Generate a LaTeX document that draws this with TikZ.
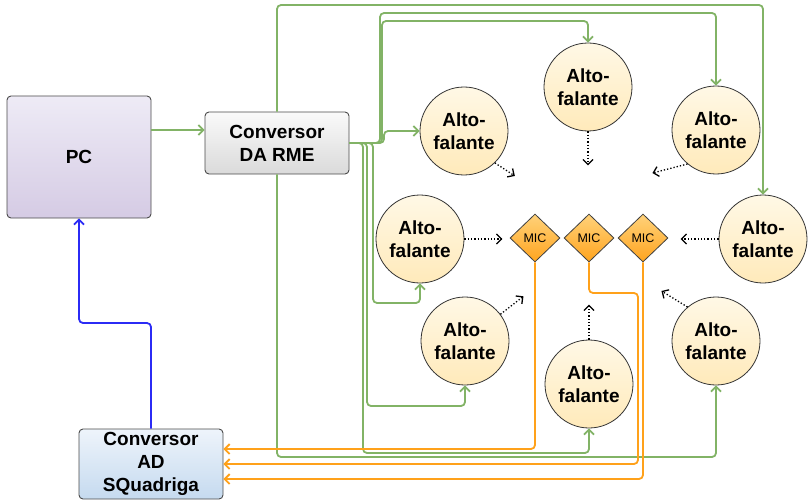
\documentclass[tikz,border=0pt]{standalone}
\usepackage{fontspec}
\setmainfont{Liberation Sans}
\usetikzlibrary{shapes.geometric, arrows.meta, calc}
\usepackage{xcolor}

\definecolor{wiregreen}{HTML}{82B366}
\definecolor{wireorange}{HTML}{FFA11A}
\definecolor{wireblue}{HTML}{2B2BF5}
\definecolor{boxline}{HTML}{4A4A4A}
\definecolor{pctop}{HTML}{EEEBF6}
\definecolor{pcbot}{HTML}{D5CBE4}
\definecolor{datop}{HTML}{FAFAFA}
\definecolor{dabot}{HTML}{DADADA}
\definecolor{adtop}{HTML}{EEF4FB}
\definecolor{adbot}{HTML}{C5DAEF}
\definecolor{spktop}{HTML}{FFF8E6}
\definecolor{spkbot}{HTML}{FFEABA}
\definecolor{mictop}{HTML}{FFD27A}
\definecolor{micbot}{HTML}{FFA41F}

\newcommand{\lblfont}{\fontsize{19}{23}\selectfont\bfseries}

\begin{document}
\begin{tikzpicture}[x=1pt, y=-1pt,
    box/.style={draw=boxline, rounded corners=4pt, line width=0.9pt, align=center, inner sep=0pt, font=\lblfont},
    spk/.style={circle, draw=black!80, line width=0.8pt, top color=spktop, bottom color=spkbot, minimum size=88pt, inner sep=0pt, align=center, font=\lblfont},
    mic/.style={diamond, draw=black!75, line width=0.8pt, top color=mictop, bottom color=micbot, minimum width=50pt, minimum height=48pt, inner sep=0pt, font=\fontsize{12.5}{14}\selectfont},
    tip/.style={-{Straight Barb[length=5pt,width=10pt]}},
    gwire/.style={draw=wiregreen, line width=1.8pt, rounded corners=4pt, tip},
    owire/.style={draw=wireorange, line width=1.8pt, rounded corners=4pt, tip},
    sound/.style={draw=black, line width=1.3pt, dotted, tip}]
    \useasboundingbox (0,0) rectangle (808,500);

    % Converters and PC
    \node[box, top color=pctop, bottom color=pcbot, minimum width=144pt, minimum height=122pt] (pc) at (79,157) {PC};
    \node[box, top color=datop, bottom color=dabot, minimum width=144pt, minimum height=62pt] (daRME) at (277,143) {Conversor\\DA RME};
    \node[box, top color=adtop, bottom color=adbot, minimum width=144pt, minimum height=70pt] (adSQ) at (151,464) {Conversor\\AD\\SQuadriga};

    % Loudspeakers
    \node[spk] (spk1) at (464,131) {Alto-\\falante};
    \node[spk] (spk2) at (588,87)  {Alto-\\falante};
    \node[spk] (spk3) at (716,130) {Alto-\\falante};
    \node[spk] (spk4) at (420,239) {Alto-\\falante};
    \node[spk] (spk5) at (763,239) {Alto-\\falante};
    \node[spk] (spk6) at (465,341) {Alto-\\falante};
    \node[spk] (spk7) at (589,384) {Alto-\\falante};
    \node[spk] (spk8) at (716,341) {Alto-\\falante};

    % Microphones
    \node[mic] (mic1) at (535,238) {MIC};
    \node[mic] (mic2) at (589,238) {MIC};
    \node[mic] (mic3) at (643,238) {MIC};

    % PC <-> converters
    \draw[gwire] ([yshift=27pt]pc.east) -- ([yshift=27pt]pc.east -| daRME.west);
    \draw[draw=wireblue, line width=1.8pt, rounded corners=4pt, tip] (adSQ.north) -- (151,323) -| (pc.south);

    % DA outputs to loudspeakers
    \draw[gwire] (daRME.east) -- (384,143) -- (384,131) -- (spk1.west);
    \draw[gwire] (daRME.east) -| (382,21) -| (spk2.north);
    \draw[gwire] (daRME.east) -| (380,13) -| (spk3.north);
    \draw[gwire] (daRME.north) -- (277,5) -| (spk5.north);
    \draw[gwire] (daRME.south) -- (277,457) -| (spk8.south);
    \draw[gwire] (daRME.east) -| (373,303) -| (spk4.south);
    \draw[gwire] (daRME.east) -| (367,406) -| (spk6.south);
    \draw[gwire] (daRME.east) -| (363,453) -| (spk7.south);

    % Sound towards the microphones
    \draw[sound] (spk1.-46)  -- ++(20,13);
    \draw[sound] (spk2.south) -- ++(0,34);
    \draw[sound] (spk3.-130) -- ++(-35,9);
    \draw[sound] (spk4.east) -- ++(38,0);
    \draw[sound] (spk5.west) -- ++(-38,0);
    \draw[sound] (spk6.37)   -- ++(23,-18);
    \draw[sound] (spk7.north) -- ++(0,-35);
    \draw[sound] (spk8.130)  -- ++(-26,-16);

    % Microphones to AD
    \draw[owire] (mic1.south) |- ([yshift=15pt]adSQ.east);
    \draw[owire] (mic2.south) -- (589,293) -- (638,293) |- (adSQ.east);
    \draw[owire] (mic3.south) |- ([yshift=-15pt]adSQ.east);
\end{tikzpicture}
\end{document}
